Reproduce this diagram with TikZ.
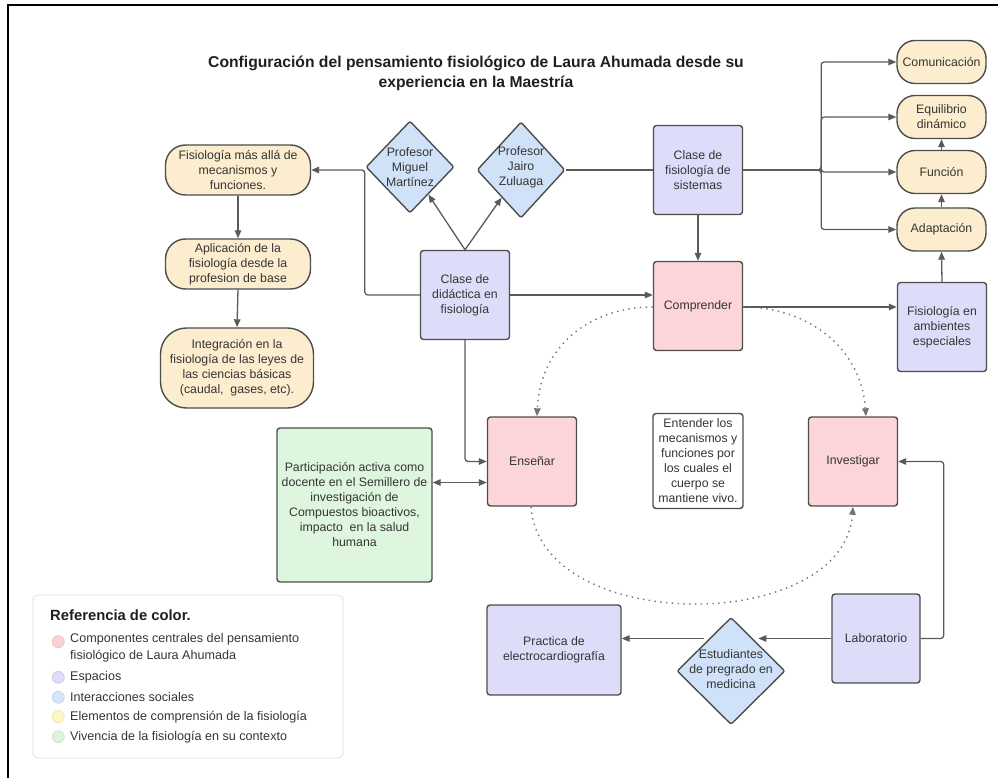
\documentclass[tikz,border=0pt]{standalone}
\usepackage{fontspec}
\setmainfont{Liberation Sans}
\usetikzlibrary{shapes.geometric,arrows.meta,calc}
\definecolor{cPur}{HTML}{DDDDFA}
\definecolor{cPink}{HTML}{FBD5D7}
\definecolor{cBlue}{HTML}{CFE2F8}
\definecolor{cYel}{HTML}{FBEDCD}
\definecolor{cGrn}{HTML}{DEF6DD}
\definecolor{cLine}{HTML}{5A5A5A}
\definecolor{cBord}{HTML}{4D4D4D}
\definecolor{cTxt}{HTML}{353535}
\definecolor{lPink}{HTML}{FAD3D4}\definecolor{lPinkB}{HTML}{F0B8BA}
\definecolor{lPur}{HTML}{DEDCF8}\definecolor{lPurB}{HTML}{C6C3EE}
\definecolor{lBlue}{HTML}{D5E6FA}\definecolor{lBlueB}{HTML}{B5D0F0}
\definecolor{lYel}{HTML}{FDF6C8}\definecolor{lYelB}{HTML}{EEE29C}
\definecolor{lGrn}{HTML}{DEF4DE}\definecolor{lGrnB}{HTML}{C0E4C0}
\begin{document}
\begin{tikzpicture}[x=1pt,y=-1pt,
  txt/.style={align=center,text=cTxt,font=\fontsize{12.3}{15}\selectfont},
  base/.style={txt,draw=cBord,line width=1.4pt,inner sep=0pt},
  sq/.style={base,rounded corners=3pt,minimum width=89pt,minimum height=89pt},
  pur/.style={sq,fill=cPur},
  pnk/.style={sq,fill=cPink},
  yel/.style={base,fill=cYel,rounded corners=18pt,minimum width=89pt,minimum height=43pt},
  dia/.style={base,fill=cBlue,diamond,rounded corners=2pt},
  arr/.style={draw=cLine,line width=1.3pt,rounded corners=3pt,-{Triangle[length=8pt,width=6.5pt]}},
  ln/.style={draw=cLine,line width=1.3pt},
  dotarr/.style={draw=cLine!85,line width=1.4pt,dash pattern=on 1.4pt off 4.4pt,-{Triangle[length=8pt,width=6.5pt]}},
  leg/.style={anchor=west,text=cTxt,align=left,font=\fontsize{12.6}{17}\selectfont,inner sep=0pt}
]
\useasboundingbox (0,0) rectangle (998,778);
\draw[line width=2.2pt,black] (8,778) -- (8,5) -- (998,5);

% title
\node[align=center,text=black!88,font=\fontsize{15.7}{20}\selectfont\bfseries] (title) at (476,73.5)
  {Configuración del pensamiento fisiológico de Laura Ahumada desde su\\experiencia en la Maestría};

% left yellow column
\node[yel,minimum width=145pt,minimum height=50pt,rounded corners=20pt] (fis) at (238,170) {Fisiología más allá de\\mecanismos y\\funciones.};
\node[yel,minimum width=145pt,minimum height=50pt,rounded corners=20pt] (apl) at (238,264) {Aplicación de la\\fisiología desde la\\profesion de base};
\node[yel,minimum width=153pt,minimum height=80pt,rounded corners=26pt] (int) at (237,368) {Integración en la\\fisiología de las leyes de\\las ciencias básicas\\(caudal,\ \ gases, etc).};

% diamonds
\node[dia,minimum width=88pt,minimum height=92pt,label={[txt]center:Profesor\\Miguel\\Martínez}] (mig) at (410,167) {};
\node[dia,minimum width=88pt,minimum height=96pt,label={[txt,yshift=3pt]center:Profesor\\Jairo\\Zuluaga}] (jai) at (521,170) {};

% purple / pink central
\node[pur] (did) at (465,295) {Clase de\\didáctica en\\fisiología};
\node[pur] (sis) at (698,170) {Clase de\\fisiología de\\sistemas};
\node[pnk] (comp) at (698,306) {Comprender};

% right yellow column
\node[yel] (com) at (941.5,62) {Comunicación};
\node[yel] (equ) at (941.5,117) {Equilibrio\\dinámico};
\node[yel] (fun) at (941.5,172) {Función};
\node[yel] (ada) at (941.5,229.5) {Adaptación};
\node[pur] (amb) at (942,327) {Fisiología en\\ambientes\\especiales};

% middle row
\node[pnk] (ens) at (532,461.5) {Enseñar};
\node[base,rounded corners=3pt,fill=white,minimum width=90pt,minimum height=95pt] (ent) at (698,461) {Entender los\\mecanismos y\\funciones por\\los cuales el\\cuerpo se\\mantiene vivo.};
\node[pnk] (inv) at (853,461.5) {Investigar};
\node[base,rounded corners=3pt,fill=cGrn,minimum width=155pt,minimum height=154pt] (grn) at (354.5,505) {Participación activa como\\docente en el Semillero de\\investigación de\\Compuestos bioactivos,\\impacto\ \ en la salud\\humana};

% bottom row
\node[pur,minimum width=88pt] (lab) at (876,638.5) {Laboratorio};
\node[dia,minimum width=108pt,minimum height=107pt,label={[txt,yshift=2pt]center:Estudiantes\\de pregrado en\\medicina}] (est) at (731,671) {};
\node[pur,minimum width=134pt,minimum height=90pt] (pra) at (554,650) {Practica de\\electrocardiografía};

% connectors
\draw[arr] (did.north) -- (mig);
\draw[arr] (did.north) -- (jai);
\draw[arr] (did.west) -- ++(-55,0) |- (fis.east);
\draw[arr] (fis.south) -- (apl.north);
\draw[arr] (apl.south) -- (int.north);
\draw[ln] (jai.east) -- (jai.east -| sis.west);
\draw[arr] (sis.south) -- (comp.north);
\draw[arr] (did.east) -- (did.east -| comp.west);
\draw[arr] (sis.east) -- ++(78,0) |- (com.west);
\draw[arr] (sis.east) -- ++(78,0) |- (equ.west);
\draw[arr] (sis.east) -- ++(78,0) |- (fun.west);
\draw[arr] (sis.east) -- ++(78,0) |- (ada.west);
\draw[arr] (fun.north) -- (equ.south);
\draw[arr] (ada.north) -- (fun.south);
\draw[arr] (amb.north) -- (ada.south);
\draw[arr] ([yshift=-1pt]comp.east) -- ([yshift=-1pt]comp.east -| amb.west);
\draw[arr] (did.south) |- (ens.west);
\draw[draw=cLine,line width=1.3pt,{Triangle[length=8pt,width=6.5pt]}-{Triangle[length=8pt,width=6.5pt]}]
  ([yshift=-21pt]ens.west -| grn.east) -- ([yshift=-21pt]ens.west);
\draw[arr] (lab.east) -- ++(23,0) |- (inv.east);
\draw[arr] (lab.west) -- (lab.west -| est.north east);
\draw[arr] (lab.west -| est.north west) -- (lab.west -| pra.east);

% dotted cycle
\draw[dotarr] ([yshift=-1pt]comp.west) .. controls +(-63,0) and +(3,-70) .. ([xshift=5pt]ens.north);
\draw[dotarr] ([yshift=-1pt]comp.east) .. controls +(63,0) and +(-5,-70) .. ([xshift=13pt]inv.north);
\draw[dotarr] ([xshift=-1pt]ens.south) .. controls +(9,129) and +(-9,128) .. (inv.south);

% legend
\node[draw=black!12,line width=0.8pt,rounded corners=5pt,minimum width=310pt,minimum height=163pt,inner sep=0pt] (legbox) at (188,676.5) {};
\node[anchor=west,text=black!88,font=\fontsize{14.8}{17}\selectfont\bfseries,inner sep=0pt] (legt) at (50,615) {Referencia de color.};
\node[circle,fill=lPink,draw=lPinkB,line width=0.6pt,minimum size=12pt,inner sep=0pt] (c1) at (58.3,641.7) {};
\node[circle,fill=lPur,draw=lPurB,line width=0.6pt,minimum size=12pt,inner sep=0pt] (c2) at (58.3,677.3) {};
\node[circle,fill=lBlue,draw=lBlueB,line width=0.6pt,minimum size=12pt,inner sep=0pt] (c3) at (58.3,697.3) {};
\node[circle,fill=lYel,draw=lYelB,line width=0.6pt,minimum size=12pt,inner sep=0pt] (c4) at (58.3,716.7) {};
\node[circle,fill=lGrn,draw=lGrnB,line width=0.6pt,minimum size=12pt,inner sep=0pt] (c5) at (58.3,736.7) {};
\node[leg,anchor=north west] (t1) at (70,633) {Componentes centrales del pensamiento\\fisiológico de Laura Ahumada};
\node[leg] (t2) at (70,677.3) {Espacios};
\node[leg] (t3) at (70,697.3) {Interacciones sociales};
\node[leg] (t4) at (70,716.7) {Elementos de comprensión de la fisiología};
\node[leg] (t5) at (70,736.7) {Vivencia de la fisiología en su contexto};
\end{tikzpicture}
\end{document}
